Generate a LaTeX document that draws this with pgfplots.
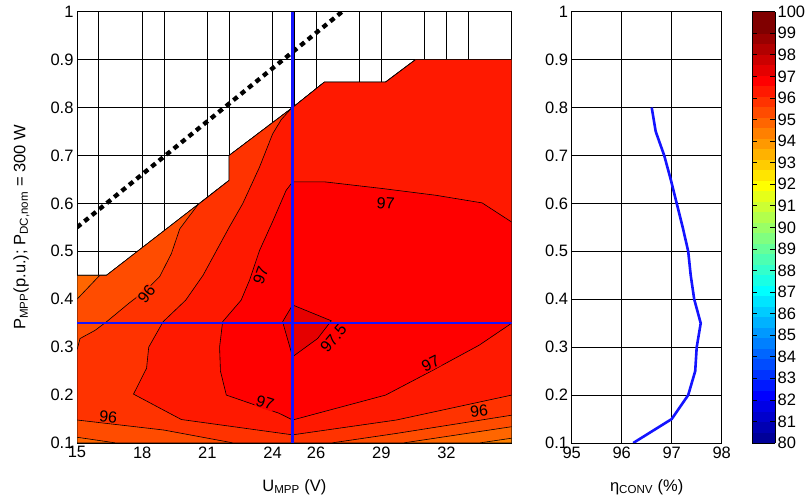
\documentclass[border=0pt]{standalone}
\usepackage{fontspec}
\setmainfont{Liberation Sans}
\usepackage{pgfplots}
\pgfplotsset{compat=1.18}
\definecolor{cA}{rgb}{1,0.5,0}   % 94.5-95
\definecolor{cB}{rgb}{1,0.4,0}   % 95-95.5
\definecolor{cC}{rgb}{1,0.3,0}   % 95.5-96
\definecolor{cD}{rgb}{1,0.2,0}   % 96-96.5
\definecolor{cE}{rgb}{1,0.1,0}   % 96.5-97
\definecolor{cF}{rgb}{1,0,0}     % 97-97.5
\definecolor{cG}{rgb}{0.9,0,0}   % 97.5-98
\definecolor{mblue}{rgb}{0.08,0.08,1}
\tikzset{lab/.style={font=\fontsize{16}{19}\selectfont, inner sep=0.5pt, fill=#1}}
\pgfplotsset{
  /pgf/number format/assume math mode=true,
  colormap={mjet}{rgb=(0,0,0.6) rgb=(0,0,0.7) rgb=(0,0,0.8) rgb=(0,0,0.9) rgb=(0,0,1)
    rgb=(0,0.1,1) rgb=(0,0.2,1) rgb=(0,0.3,1) rgb=(0,0.4,1) rgb=(0,0.5,1)
    rgb=(0,0.6,1) rgb=(0,0.7,1) rgb=(0,0.8,1) rgb=(0,0.9,1) rgb=(0,1,1)
    rgb=(0.1,1,0.9) rgb=(0.2,1,0.8) rgb=(0.3,1,0.7) rgb=(0.4,1,0.6) rgb=(0.5,1,0.5)
    rgb=(0.6,1,0.4) rgb=(0.7,1,0.3) rgb=(0.8,1,0.2) rgb=(0.9,1,0.1) rgb=(1,1,0)
    rgb=(1,0.9,0) rgb=(1,0.8,0) rgb=(1,0.7,0) rgb=(1,0.6,0) rgb=(1,0.5,0)
    rgb=(1,0.4,0) rgb=(1,0.3,0) rgb=(1,0.2,0) rgb=(1,0.1,0) rgb=(1,0,0)
    rgb=(0.9,0,0) rgb=(0.8,0,0) rgb=(0.7,0,0) rgb=(0.6,0,0) rgb=(0.5,0,0) rgb=(0.5,0,0)},
  myaxis/.style={scale only axis, height=431.3pt, ymin=0.1, ymax=1,
    ytick={0.1,0.2,0.3,0.4,0.5,0.6,0.7,0.8,0.9,1},
    yticklabels={0.1,0.2,0.3,0.4,0.5,0.6,0.7,0.8,0.9,1},
    grid=major, major grid style={black, line width=0.7pt},
    axis line style={black, line width=0.8pt},
    tick align=inside, major tick length=4pt, tick style={black, line width=0.7pt},
    ticklabel style={font=\fontsize{16.5}{19}\selectfont},
    label style={font=\fontsize{16.5}{19}\selectfont},
  },
  cont/.style={draw=black, line width=0.6pt, fill=#1},
}
\begin{document}
\begin{tikzpicture}[font=\fontsize{16.5}{19}\selectfont]
\path[use as bounding box] (-77pt,-59pt) rectangle (733pt,443pt);
\begin{axis}[myaxis, at={(0pt,0pt)}, anchor=south west, width=434.7pt,
  xmin=15, xmax=35,
  xtick={15,16,18,19,21,22,24,25,26,28,29,31,32,33},
  xticklabels={15,,18,,21,,24,,26,,29,,32,},
  xlabel={U\textsubscript{MPP} (V)},
  ylabel={P\textsubscript{MPP}(p.u.); P\textsubscript{DC,nom} = 300 W},
  xlabel style={at={(axis description cs:0.5,-0.102)}, anchor=center},
  ylabel style={at={(axis description cs:-0.128,0.5)}, anchor=center},
]
% base region (94.5-95)
\addplot[cont=cA] coordinates {(15,0.1) (35,0.1) (35,0.9) (30.58,0.9) (29.2,0.853) (26.38,0.853) (24.92,0.8) (22,0.7) (22,0.648) (16.36,0.45) (15,0.45) (15,0.1)};
% > 95
\addplot[cont=cB] coordinates {(15,0.1) (33.5,0.1) (35,0.11) (35,0.9) (30.58,0.9) (29.2,0.853) (26.38,0.853) (24.92,0.8) (22,0.7) (22,0.648) (16.36,0.45) (15,0.45) (15,0.1)};
% > 95.5
\addplot[cont=cC] coordinates {(15,0.112) (15,0.4) (16.05,0.45) (16.36,0.45) (22,0.648) (22,0.7) (24.92,0.8) (26.38,0.853) (29.2,0.853) (30.58,0.9) (35,0.9) (35,0.134) (30,0.1) (16.8,0.1) (15,0.112)};
% > 96
\addplot[cont=cD] coordinates {(15,0.148) (15,0.294) (15.14,0.318) (15.83,0.335) (16.36,0.353) (17.4,0.392) (18.2,0.42) (18.8,0.447) (19.34,0.495) (19.73,0.547) (20.56,0.597) (22,0.648) (22,0.7) (24.92,0.8) (26.38,0.853) (29.2,0.853) (30.58,0.9) (35,0.9) (35,0.158) (29.7,0.12) (26.7,0.1) (22.2,0.1) (19,0.127) (15,0.148)};
% > 96.5
\addplot[cont=cE] coordinates {(35,0.2) (29.7,0.148) (24.92,0.117) (19.8,0.149) (17.6,0.202) (18.2,0.256) (18.3,0.3) (18.96,0.353) (20.0,0.398) (20.8,0.45) (21.4,0.5) (22.0,0.55) (22.63,0.6) (23.4,0.676) (24.0,0.745) (24.4,0.775) (24.8,0.795) (24.92,0.8) (26.38,0.853) (29.2,0.853) (30.58,0.9) (35,0.9) (35,0.2)};
% > 97
\addplot[cont=cF] coordinates {(35,0.35) (33.5,0.304) (31.3,0.25) (29.2,0.2) (24.92,0.148) (24.3,0.162) (21.87,0.2) (21.6,0.25) (21.56,0.3) (21.7,0.353) (22.55,0.398) (22.94,0.44) (23.4,0.502) (24.0,0.562) (24.62,0.627) (24.92,0.645) (26.38,0.645) (29.05,0.631) (31.5,0.617) (33.64,0.601) (35,0.561) (35,0.35)};
% > 97.5
\addplot[cont=cG] coordinates {(24.92,0.388) (26.7,0.355) (26.07,0.318) (24.92,0.28) (24.46,0.353) (24.92,0.388)};
% labels
\node[lab=cD, rotate=52] at (axis cs:18.2,0.41) {96};
\node[lab=cF, rotate=70] at (axis cs:23.45,0.45) {97};
\node[lab=cF, rotate=-4] at (axis cs:29.2,0.6) {97};
\node[lab=cF, rotate=50] at (axis cs:26.8,0.318) {97.5};
\node[lab=cF, rotate=-18] at (axis cs:23.65,0.184) {97};
\node[lab=cF, rotate=27] at (axis cs:31.27,0.265) {97};
\node[lab=cD, rotate=-6] at (axis cs:16.44,0.155) {96};
\node[lab=cD, rotate=6] at (axis cs:33.5,0.166) {96};
% dashed limit line
\addplot[black, line width=4.3pt, dash pattern=on 5.2pt off 4.4pt] coordinates {(15,0.55) (27.2,1.0)};
% blue cross lines
\addplot[mblue, line width=2.6pt] coordinates {(24.92,0.1) (24.92,1.0)};
\addplot[mblue, line width=2.6pt] coordinates {(15,0.35) (35,0.35)};
\end{axis}
\begin{axis}[myaxis, at={(494.7pt,0pt)}, anchor=south west, width=150pt,
  xmin=95, xmax=98, xtick={95,96,97,98}, xticklabels={95,96,97,98},
  xlabel={η\textsubscript{CONV} (\%)},
  xlabel style={at={(axis description cs:0.5,-0.102)}, anchor=center},
  colormap name=mjet, colormap access=piecewise constant,
  point meta min=80, point meta max=100,
  colorbar,
  colorbar style={at={(parent axis.north east)}, anchor=north west, xshift=21.8pt,
    width=23pt, ytick={80,81,...,100}, ytick pos=both, yticklabel pos=right,
    tick align=inside, major tick length=5pt, tick style={black, line width=0.7pt},
    axis line style={black, line width=0.8pt},
    yticklabel style={font=\fontsize{16.5}{19}\selectfont, inner ysep=0.5pt, xshift=-1pt}},
]
\addplot[mblue, line width=2.6pt] coordinates {(96.23,0.1) (97.0,0.15) (97.33,0.2) (97.47,0.25) (97.5,0.3) (97.58,0.35) (97.45,0.4) (97.38,0.45) (97.33,0.5) (97.22,0.55) (97.1,0.6) (96.98,0.65) (96.85,0.7) (96.68,0.75) (96.6,0.8)};
\end{axis}
\end{tikzpicture}
\end{document}
